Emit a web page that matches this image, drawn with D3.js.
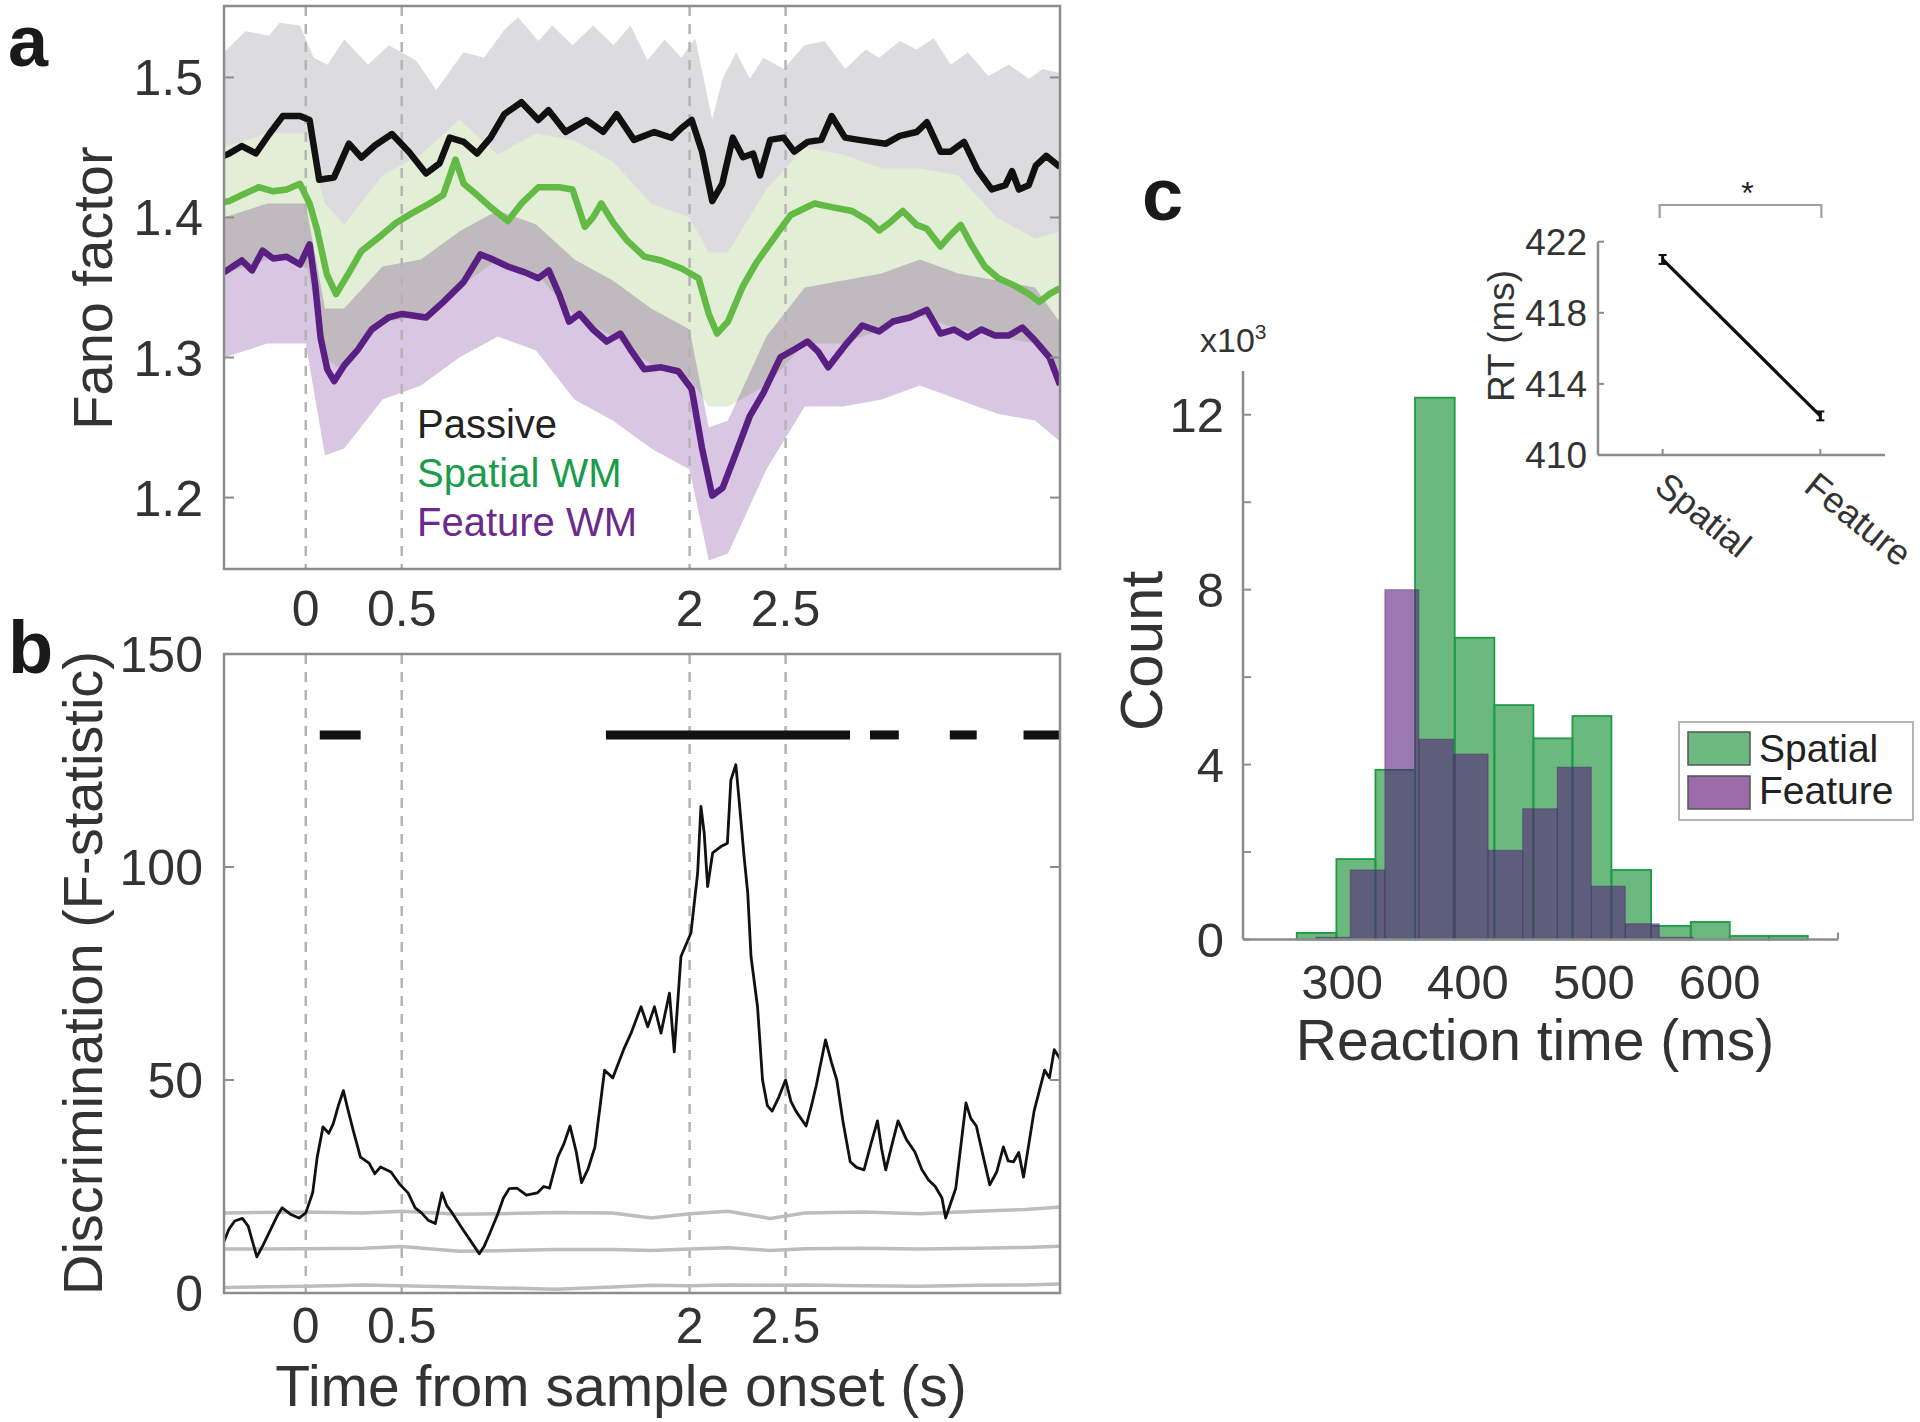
<!DOCTYPE html>
<html>
<head>
<meta charset="utf-8">
<script src="https://cdnjs.cloudflare.com/ajax/libs/d3/7.8.5/d3.min.js"></script>
<style>
  body { margin: 0; background: #fff; }
  svg { display: block; font-family: "Liberation Sans", Arial, Helvetica, sans-serif; }
</style>
</head>
<body>
<svg id="fig" width="1920" height="1422"></svg>
<script>
/* Fano factor / discrimination / reaction time figure */

// ── data ──
const tickTimes   = [0, 0.5, 2, 2.5];
const fanoTicks   = [1.2, 1.3, 1.4, 1.5];
const fTicks      = [0, 50, 100, 150];
const countTicks  = [0, 2, 4, 6, 8, 10, 12];
const countLabels = [0, 4, 8, 12];
const rtTicks     = [300, 400, 500, 600];
const insetTicks  = [410, 414, 418, 422];
const legendA     = ['Passive', 'Spatial WM', 'Feature WM'];

// panel a: mean Fano factor  [t, value]
const passiveMean = [[-0.426,1.444],[-0.40,1.4456],[-0.333,1.451],[-0.26,1.4457],[-0.19,1.4596],[-0.12,1.4724],[-0.03,1.4724],[0.02,1.4696],[0.07,1.427],[0.147,1.4286],[0.225,1.4527],[0.29,1.4427],[0.36,1.4514],[0.449,1.4596],[0.537,1.447],[0.627,1.4314],[0.697,1.4386],[0.75,1.457],[0.823,1.454],[0.893,1.4457],[0.963,1.457],[1.035,1.4738],[1.124,1.4823],[1.212,1.4696],[1.265,1.4766],[1.354,1.4611],[1.462,1.4696],[1.55,1.4611],[1.62,1.4738],[1.71,1.4554],[1.816,1.461],[1.905,1.4569],[1.958,1.4639],[2.011,1.4696],[2.065,1.447],[2.118,1.4117],[2.17,1.424],[2.225,1.457],[2.278,1.443],[2.331,1.4456],[2.367,1.43],[2.42,1.4554],[2.49,1.457],[2.545,1.447],[2.615,1.454],[2.686,1.4554],[2.74,1.4724],[2.81,1.457],[2.882,1.4554],[2.953,1.454],[3.023,1.4527],[3.095,1.4583],[3.183,1.461],[3.236,1.468],[3.307,1.447],[3.36,1.447],[3.43,1.454],[3.50,1.434],[3.574,1.42],[3.645,1.423],[3.68,1.433],[3.716,1.42],[3.767,1.423],[3.804,1.437],[3.858,1.444],[3.93,1.436]];

const spatialMean = [[-0.426,1.411],[-0.40,1.4117],[-0.333,1.416],[-0.245,1.4216],[-0.17,1.4187],[-0.10,1.42],[-0.03,1.424],[0.02,1.41],[0.06,1.3907],[0.11,1.3594],[0.158,1.3453],[0.22,1.3594],[0.29,1.376],[0.397,1.3876],[0.47,1.396],[0.538,1.4018],[0.645,1.41],[0.716,1.416],[0.78,1.4414],[0.823,1.424],[0.893,1.416],[0.963,1.4074],[1.053,1.3975],[1.124,1.41],[1.212,1.4216],[1.32,1.4216],[1.39,1.42],[1.454,1.3933],[1.497,1.40],[1.54,1.41],[1.603,1.396],[1.675,1.3834],[1.764,1.3721],[1.852,1.3693],[1.958,1.3636],[2.047,1.3566],[2.10,1.3311],[2.143,1.3171],[2.20,1.3257],[2.278,1.351],[2.349,1.368],[2.438,1.385],[2.527,1.4018],[2.651,1.41],[2.74,1.4074],[2.846,1.4046],[2.934,1.3975],[2.987,1.3907],[3.04,1.396],[3.111,1.4046],[3.183,1.3947],[3.236,1.3919],[3.307,1.3793],[3.36,1.3876],[3.413,1.3947],[3.467,1.3807],[3.538,1.365],[3.609,1.3566],[3.698,1.351],[3.769,1.3453],[3.822,1.3396],[3.875,1.3453],[3.93,1.3495]];

const featureMean = [[-0.426,1.3608],[-0.333,1.3693],[-0.28,1.3622],[-0.225,1.3764],[-0.17,1.3707],[-0.10,1.372],[-0.03,1.3664],[0.02,1.3807],[0.05,1.351],[0.077,1.3143],[0.112,1.2916],[0.148,1.2831],[0.20,1.2944],[0.272,1.3057],[0.343,1.32],[0.432,1.3286],[0.503,1.3311],[0.627,1.3286],[0.716,1.3396],[0.822,1.3538],[0.91,1.3736],[0.964,1.3707],[1.053,1.365],[1.142,1.3608],[1.212,1.3566],[1.266,1.3622],[1.32,1.3453],[1.372,1.3257],[1.426,1.3311],[1.497,1.32],[1.568,1.3114],[1.639,1.3171],[1.692,1.3057],[1.764,1.2916],[1.852,1.293],[1.941,1.2902],[2.011,1.2775],[2.065,1.2351],[2.118,1.2014],[2.172,1.2069],[2.243,1.2323],[2.313,1.2579],[2.384,1.2746],[2.473,1.3001],[2.545,1.3057],[2.615,1.3114],[2.669,1.3043],[2.722,1.293],[2.81,1.3086],[2.90,1.3229],[2.988,1.3186],[3.059,1.3257],[3.148,1.3286],[3.236,1.334],[3.307,1.3171],[3.378,1.32],[3.449,1.3143],[3.52,1.32],[3.591,1.3157],[3.663,1.3157],[3.734,1.3214],[3.805,1.3114],[3.876,1.30],[3.93,1.2804]];

// panel a: shaded error bands  [t, low, high]
const passiveBand = [[-0.426,1.39,1.518],[-0.314,1.395,1.533],[-0.19,1.40,1.530],[-0.136,1.41,1.539],[-0.03,1.415,1.537],[0.041,1.40,1.514],[0.112,1.372,1.509],[0.201,1.385,1.527],[0.325,1.39,1.509],[0.432,1.40,1.523],[0.574,1.39,1.512],[0.68,1.38,1.491],[0.822,1.40,1.518],[0.929,1.39,1.514],[1.035,1.415,1.534],[1.106,1.425,1.543],[1.212,1.41,1.526],[1.284,1.415,1.537],[1.39,1.405,1.523],[1.497,1.41,1.537],[1.603,1.41,1.523],[1.692,1.40,1.537],[1.781,1.40,1.512],[1.869,1.40,1.527],[1.958,1.40,1.514],[2.029,1.39,1.528],[2.118,1.345,1.470],[2.172,1.34,1.499],[2.243,1.36,1.518],[2.313,1.375,1.499],[2.384,1.385,1.514],[2.491,1.40,1.506],[2.597,1.40,1.523],[2.704,1.40,1.526],[2.811,1.40,1.506],[2.917,1.395,1.52],[2.988,1.395,1.514],[3.095,1.40,1.526],[3.183,1.41,1.52],[3.272,1.40,1.528],[3.361,1.39,1.509],[3.45,1.38,1.518],[3.556,1.365,1.501],[3.663,1.365,1.509],[3.769,1.365,1.499],[3.84,1.38,1.506],[3.93,1.38,1.503]];

const spatialBand = [[-0.426,1.36,1.45],[-0.2,1.37,1.46],[0,1.37,1.46],[0.1,1.30,1.41],[0.2,1.29,1.395],[0.4,1.325,1.43],[0.6,1.33,1.445],[0.8,1.35,1.47],[1.0,1.37,1.445],[1.2,1.36,1.46],[1.4,1.33,1.455],[1.6,1.315,1.44],[1.8,1.295,1.41],[2.0,1.285,1.40],[2.1,1.265,1.375],[2.2,1.265,1.375],[2.4,1.28,1.42],[2.6,1.31,1.45],[2.8,1.31,1.445],[3.0,1.32,1.435],[3.2,1.33,1.435],[3.4,1.32,1.43],[3.6,1.315,1.40],[3.8,1.31,1.385],[3.93,1.285,1.39]];

const featureBand = [[-0.426,1.30,1.40],[-0.2,1.31,1.41],[0,1.31,1.41],[0.1,1.23,1.335],[0.2,1.235,1.335],[0.4,1.27,1.365],[0.6,1.28,1.37],[0.8,1.30,1.39],[1.0,1.315,1.405],[1.2,1.305,1.395],[1.4,1.27,1.37],[1.6,1.255,1.355],[1.8,1.235,1.335],[2.0,1.22,1.32],[2.1,1.155,1.25],[2.2,1.16,1.255],[2.4,1.22,1.315],[2.6,1.265,1.35],[2.8,1.265,1.355],[3.0,1.27,1.36],[3.2,1.28,1.37],[3.4,1.27,1.36],[3.6,1.26,1.355],[3.8,1.255,1.35],[3.93,1.24,1.325]];

// panel b: discrimination F-statistic  [t, F]
const fStat = [[-0.426,12.1],[-0.40,15],[-0.37,16.9],[-0.33,17.5],[-0.30,15.7],[-0.255,8.5],[-0.225,11],[-0.194,13.9],[-0.15,18],[-0.123,20],[-0.08,18.5],[-0.035,17.6],[0,18.8],[0.036,23.5],[0.06,32],[0.09,39],[0.12,37.5],[0.143,39.7],[0.17,44],[0.196,47.5],[0.22,43],[0.249,37.9],[0.285,31.9],[0.33,30.5],[0.36,28],[0.39,29.6],[0.444,28.4],[0.49,25.5],[0.533,23.5],[0.57,20],[0.603,18.8],[0.64,17],[0.675,16.3],[0.71,23.5],[0.735,20.5],[0.763,18.8],[0.81,15.5],[0.852,12.7],[0.904,9.2],[0.93,11],[0.958,13.9],[1.0,18.5],[1.03,22.3],[1.06,24.5],[1.10,24.6],[1.15,23],[1.206,23.5],[1.24,25],[1.27,24.6],[1.313,31.9],[1.345,35],[1.377,39.2],[1.41,33],[1.437,25.9],[1.47,29],[1.507,34.3],[1.557,52.3],[1.60,50.5],[1.655,57],[1.695,61],[1.747,67.2],[1.782,62.5],[1.817,67.2],[1.851,61],[1.895,70.4],[1.92,56.6],[1.955,79],[2.007,84.5],[2.042,98.6],[2.059,114.2],[2.076,108],[2.094,95.4],[2.12,103.3],[2.163,104.8],[2.197,105.6],[2.215,120.4],[2.241,124],[2.258,115.7],[2.284,102.4],[2.303,93.9],[2.32,79],[2.354,67.2],[2.38,50],[2.405,44],[2.43,42.7],[2.465,46],[2.50,50],[2.528,45],[2.554,42.7],[2.607,39.2],[2.635,44],[2.66,48.7],[2.708,59.4],[2.74,54],[2.767,50],[2.80,40],[2.837,30.8],[2.87,29.5],[2.909,28.9],[2.945,35],[2.979,40.4],[3.0,34],[3.022,28.9],[3.05,34],[3.086,40.4],[3.13,36],[3.174,33.1],[3.21,29],[3.245,26.5],[3.28,25],[3.315,22.3],[3.334,17.6],[3.36,21],[3.387,24.6],[3.44,44.6],[3.465,41],[3.494,39.2],[3.53,32],[3.564,25.4],[3.60,28.4],[3.635,34.3],[3.66,31],[3.688,30.8],[3.715,33],[3.74,27.2],[3.795,42.7],[3.85,52.3],[3.875,50.5],[3.90,57.1],[3.93,55]];

// panel b: shuffled thresholds (grey lines)
const thrTimes = [-0.426, 0, 0.3, 0.5, 0.8, 1.0, 1.3, 1.6, 1.8, 2.0, 2.2, 2.42, 2.6, 2.9, 3.2, 3.5, 3.75, 3.93];
const thrHigh  = [18.8, 19.0, 18.8, 19.2, 18.5, 18.6, 18.9, 18.8, 17.6, 18.6, 19.2, 17.5, 18.8, 19.0, 18.6, 19.2, 19.6, 20.2];
const thrMid   = [10.3, 10.4, 10.5, 10.9, 9.8, 9.9, 10.2, 10.2, 10.0, 10.3, 10.6, 10.0, 10.4, 10.5, 10.3, 10.5, 10.7, 11.0];
const thrLow   = [1.3, 1.6, 1.9, 1.7, 1.4, 1.2, 0.9, 1.4, 1.8, 1.7, 1.9, 1.8, 1.9, 1.7, 1.6, 1.8, 1.9, 2.1];

// panel b: significant epochs  [start, end] (s)
const sigEpochs = [[0.073, 0.286], [1.564, 2.836], [2.94, 3.09], [3.356, 3.496], [3.74, 3.93]];
const sigLevel = 131;

// panel c: RT histograms (counts x10^3)
const spatialEdges  = [221, 264, 295.5, 326.5, 358, 389.5, 421, 452, 483, 514, 545.5, 577, 608, 639, 670];
const spatialCounts = [0, 0.15, 1.84, 3.88, 12.39, 6.9, 5.36, 4.6, 5.11, 1.59, 0.31, 0.40, 0.08, 0.08];
const featureEdges  = [279, 306.5, 334, 361, 388.5, 416, 443.5, 471, 498, 525, 552, 579];
const featureCounts = [0.05, 1.59, 8.0, 4.58, 4.24, 2.04, 2.99, 3.94, 1.22, 0.36, 0.05];

// panel c inset: mean RT
const rtConds = ['Spatial', 'Feature'];
const rtMeans = [421.0, 412.2];
const rtErr   = [0.25, 0.25];

// ── layout ──
const TXT = '#333';
const AXIS = '#8c8c8c';
const A = { l: 224, r: 1060, t: 6, b: 569 };
const B = { l: 224, r: 1060, t: 654, b: 1293 };
const C = { l: 1243, r: 1838, t: 371, b: 939.5 };
const I = { l: 1598, r: 1885, t: 241.7, b: 455 };

const svg = d3.select('#fig');
const defs = svg.append('defs');

const x  = d3.scaleLinear().domain([-0.426, 3.93]).range([A.l, A.r]);
const yA = d3.scaleLinear().domain([1.149, 1.551]).range([A.b, A.t]);
const yB = d3.scaleLinear().domain([0, 150]).range([B.b, B.t]);
const xC = d3.scaleLinear().domain([221.3, 694]).range([C.l, C.r]);
const yC = d3.scaleLinear().domain([0, 13]).range([C.b, C.t]);
const xI = d3.scalePoint().domain(rtConds).range([I.l, I.r]).padding(0.41);
const yI = d3.scaleLinear().domain([410, 422]).range([I.b, I.t]);

function clipFor(id, box) {
  defs.append('clipPath').attr('id', id).append('rect')
    .attr('x', box.l).attr('y', box.t).attr('width', box.r - box.l).attr('height', box.b - box.t);
}
clipFor('clipA', A);
clipFor('clipB', B);

// dashed event lines at sample / test on- and offsets
function eventLines(g, box) {
  g.selectAll('.ev').data(tickTimes).join('line')
    .attr('x1', d => x(d)).attr('x2', d => x(d))
    .attr('y1', box.t).attr('y2', box.b)
    .attr('stroke', '#b4b4b4').attr('stroke-width', 2.5).attr('stroke-dasharray', '10,8');
}
// box, inward ticks and tick labels shared by panels a and b
function timeFrame(g, box, yScale, yTicks, fmt, labelY) {
  g.append('rect').attr('x', box.l).attr('y', box.t)
    .attr('width', box.r - box.l).attr('height', box.b - box.t)
    .attr('fill', 'none').attr('stroke', AXIS).attr('stroke-width', 2.5);
  yTicks.forEach(v => {
    g.append('line').attr('x1', box.l).attr('x2', box.l + 10).attr('y1', yScale(v)).attr('y2', yScale(v))
      .attr('stroke', AXIS).attr('stroke-width', 2);
    g.append('line').attr('x1', box.r).attr('x2', box.r - 10).attr('y1', yScale(v)).attr('y2', yScale(v))
      .attr('stroke', AXIS).attr('stroke-width', 2);
  });
  g.selectAll('.ylab').data(yTicks).join('text')
    .attr('x', 203).attr('y', d => yScale(d)).attr('dy', '0.36em')
    .attr('text-anchor', 'end').attr('font-size', 50).attr('fill', TXT)
    .text(fmt);
  g.selectAll('.xlab').data(tickTimes).join('text')
    .attr('x', d => x(d)).attr('y', labelY)
    .attr('text-anchor', 'middle').attr('font-size', 50).attr('fill', TXT)
    .text(d => d);
}

// ── panel a ──
const gA = svg.append('g');
const bandArea = yS => d3.area().x(d => x(d[0])).y0(d => yS(d[1])).y1(d => yS(d[2]));
const lineA = d3.line().x(d => x(d[0])).y(d => yA(d[1]));
const dataA = gA.append('g').attr('clip-path', 'url(#clipA)');

dataA.append('path').datum(passiveBand).attr('d', bandArea(yA)).attr('fill', '#dcdcdf');
dataA.append('path').datum(spatialBand).attr('d', bandArea(yA)).attr('fill', '#e2eed6');
dataA.append('path').datum(featureBand).attr('d', bandArea(yA)).attr('fill', '#d9c6e3')
  .style('mix-blend-mode', 'multiply');
eventLines(dataA, A);

[[passiveMean, '#111111'], [spatialMean, '#63ba45'], [featureMean, '#5a1f82']].forEach(([d, c]) => {
  dataA.append('path').datum(d).attr('d', lineA)
    .attr('fill', 'none').attr('stroke', c).attr('stroke-width', 6.5)
    .attr('stroke-linejoin', 'round');
});
timeFrame(gA, A, yA, fanoTicks, d => d.toFixed(1), 626);

gA.selectAll('.leg').data(legendA).join('text')
  .attr('x', 417).attr('y', (d, i) => 438 + i * 49)
  .attr('font-size', 40)
  .attr('fill', (d, i) => ['#222', '#1a9c4a', '#6b2a8c'][i])
  .text(d => d);

gA.append('text').attr('transform', 'translate(112,288) rotate(-90)')
  .attr('text-anchor', 'middle').attr('font-size', 56).attr('fill', TXT).text('Fano factor');

// ── panel b ──
const gB = svg.append('g');
const dataB = gB.append('g').attr('clip-path', 'url(#clipB)');
eventLines(dataB, B);

const thrLine = d3.line().x(d => x(d[0])).y(d => yB(d[1]));
[thrHigh, thrMid, thrLow].forEach(vals => {
  dataB.append('path').datum(thrTimes.map((t, i) => [t, vals[i]])).attr('d', thrLine)
    .attr('fill', 'none').attr('stroke', '#bdbdbd').attr('stroke-width', 3.5);
});

dataB.append('path').datum(fStat).attr('d', d3.line().x(d => x(d[0])).y(d => yB(d[1])))
  .attr('fill', 'none').attr('stroke', '#111').attr('stroke-width', 2.8).attr('stroke-linejoin', 'round');

dataB.selectAll('.sig').data(sigEpochs).join('line')
  .attr('x1', d => x(d[0])).attr('x2', d => x(d[1]))
  .attr('y1', yB(sigLevel)).attr('y2', yB(sigLevel))
  .attr('stroke', '#111').attr('stroke-width', 9);

timeFrame(gB, B, yB, fTicks, d => d, 1343);

gB.append('text').attr('transform', 'translate(102,973) rotate(-90)')
  .attr('text-anchor', 'middle').attr('font-size', 56).attr('fill', TXT)
  .text('Discrimination (F-statistic)');
gB.append('text').attr('x', 621).attr('y', 1406)
  .attr('text-anchor', 'middle').attr('font-size', 57).attr('fill', TXT)
  .text('Time from sample onset (s)');

// ── panel c: histogram ──
const gC = svg.append('g');
const binsOf = (edges, counts) => counts.map((c, i) => ({ x0: edges[i], x1: edges[i + 1], c }));

gC.selectAll('.bs').data(binsOf(spatialEdges, spatialCounts)).join('rect')
  .attr('x', d => xC(d.x0)).attr('width', d => xC(d.x1) - xC(d.x0))
  .attr('y', d => yC(d.c)).attr('height', d => yC(0) - yC(d.c))
  .attr('fill', 'rgb(10,138,44)').attr('fill-opacity', 0.6)
  .attr('stroke', '#1f9a48').attr('stroke-width', 1.8);

gC.selectAll('.bf').data(binsOf(featureEdges, featureCounts)).join('rect')
  .attr('x', d => xC(d.x0)).attr('width', d => xC(d.x1) - xC(d.x0))
  .attr('y', d => yC(d.c)).attr('height', d => yC(0) - yC(d.c))
  .attr('fill', 'rgb(85,25,120)').attr('fill-opacity', 0.58)
  .attr('stroke', 'rgba(70,45,100,0.4)').attr('stroke-width', 1.2);

// axes
gC.append('line').attr('x1', C.l).attr('x2', C.l).attr('y1', C.t).attr('y2', C.b)
  .attr('stroke', AXIS).attr('stroke-width', 2.5);
gC.append('line').attr('x1', C.l).attr('x2', C.r).attr('y1', C.b).attr('y2', C.b)
  .attr('stroke', AXIS).attr('stroke-width', 2.5);
gC.append('line').attr('x1', C.r).attr('x2', C.r).attr('y1', C.b).attr('y2', C.b - 7)
  .attr('stroke', AXIS).attr('stroke-width', 2);
gC.selectAll('.ct').data(countTicks).join('line')
  .attr('x1', C.l).attr('x2', C.l + 8).attr('y1', d => yC(d)).attr('y2', d => yC(d))
  .attr('stroke', AXIS).attr('stroke-width', 2);
gC.selectAll('.cl').data(countLabels).join('text')
  .attr('x', 1224).attr('y', d => yC(d)).attr('dy', '0.36em')
  .attr('text-anchor', 'end').attr('font-size', 49).attr('fill', TXT).text(d => d);
gC.selectAll('.rl').data(rtTicks).join('text')
  .attr('x', d => xC(d)).attr('y', 999)
  .attr('text-anchor', 'middle').attr('font-size', 49).attr('fill', TXT).text(d => d);

const exp = gC.append('text').attr('x', 1200).attr('y', 352).attr('font-size', 34).attr('fill', TXT);
exp.append('tspan').text('x10');
exp.append('tspan').attr('font-size', 21).attr('dy', -13).text('3');

gC.append('text').attr('transform', 'translate(1162,651) rotate(-90)')
  .attr('text-anchor', 'middle').attr('font-size', 60).attr('fill', TXT).text('Count');
gC.append('text').attr('x', 1535).attr('y', 1060)
  .attr('text-anchor', 'middle').attr('font-size', 57).attr('fill', TXT).text('Reaction time (ms)');

// legend
const lg = gC.append('g');
lg.append('rect').attr('x', 1679).attr('y', 722).attr('width', 234).attr('height', 98)
  .attr('fill', '#fff').attr('stroke', '#b5b5b5').attr('stroke-width', 2);
[['Spatial', '#6cb97f'], ['Feature', '#9b6ca8']].forEach(([name, col], i) => {
  lg.append('rect').attr('x', 1688).attr('y', 732 + i * 44).attr('width', 62).attr('height', 33)
    .attr('fill', col).attr('stroke', '#555').attr('stroke-width', 1.5);
  lg.append('text').attr('x', 1759).attr('y', 762 + i * 42)
    .attr('font-size', 39).attr('fill', '#222').text(name);
});

// ── panel c inset: mean RT ──
const gI = svg.append('g');
gI.append('line').attr('x1', I.l).attr('x2', I.l).attr('y1', I.t).attr('y2', I.b)
  .attr('stroke', AXIS).attr('stroke-width', 2.5);
gI.append('line').attr('x1', I.l).attr('x2', I.r).attr('y1', I.b).attr('y2', I.b)
  .attr('stroke', AXIS).attr('stroke-width', 2.5);
gI.selectAll('.it').data(insetTicks).join('line')
  .attr('x1', I.l).attr('x2', I.l + 6).attr('y1', d => yI(d)).attr('y2', d => yI(d))
  .attr('stroke', AXIS).attr('stroke-width', 2);
gI.selectAll('.xt').data(rtConds).join('line')
  .attr('x1', d => xI(d)).attr('x2', d => xI(d)).attr('y1', I.b).attr('y2', I.b - 6)
  .attr('stroke', AXIS).attr('stroke-width', 2);
gI.selectAll('.il').data(insetTicks).join('text')
  .attr('x', 1587).attr('y', d => yI(d)).attr('dy', '0.36em')
  .attr('text-anchor', 'end').attr('font-size', 37).attr('fill', TXT).text(d => d);
gI.selectAll('.cl').data(rtConds).join('text')
  .attr('transform', (d, i) => `translate(${xI(d) - 10 - i * 8},490) rotate(39)`)
  .attr('font-size', 36).attr('fill', TXT).text(d => d);
gI.append('text').attr('transform', 'translate(1514,336) rotate(-90)')
  .attr('text-anchor', 'middle').attr('font-size', 37).attr('fill', TXT).text('RT (ms)');

const rtPts = rtConds.map((c, i) => [xI(c), yI(rtMeans[i])]);
gI.append('path').datum(rtPts).attr('d', d3.line())
  .attr('fill', 'none').attr('stroke', '#111').attr('stroke-width', 3.2);
rtConds.forEach((c, i) => {
  const cx = xI(c);
  const lo = rtMeans[i] - rtErr[i], hi = rtMeans[i] + rtErr[i];
  gI.append('line').attr('x1', cx).attr('x2', cx).attr('y1', yI(lo)).attr('y2', yI(hi))
    .attr('stroke', '#111').attr('stroke-width', 3);
  [lo, hi].forEach(v => gI.append('line').attr('x1', cx - 4).attr('x2', cx + 4)
    .attr('y1', yI(v)).attr('y2', yI(v)).attr('stroke', '#111').attr('stroke-width', 2));
});

// significance bracket
const bx0 = xI('Spatial') - 3, bx1 = xI('Feature') + 1;
gI.append('path').attr('d', `M${bx0},218 V205 H${bx1} V218`)
  .attr('fill', 'none').attr('stroke', '#a0a0a0').attr('stroke-width', 2.2);
gI.append('text').attr('x', (bx0 + bx1) / 2 + 7).attr('y', 204)
  .attr('text-anchor', 'middle').attr('font-size', 32).attr('fill', '#222').text('*');

// panel letters
[['a', 8, 66, 72], ['b', 8, 673, 74], ['c', 1142, 220, 74]].forEach(([t, px, py, fs]) => {
  svg.append('text').attr('x', px).attr('y', py)
    .attr('font-size', fs).attr('font-weight', 'bold').attr('fill', '#1a1a1a').text(t);
});
</script>
</body>
</html>
